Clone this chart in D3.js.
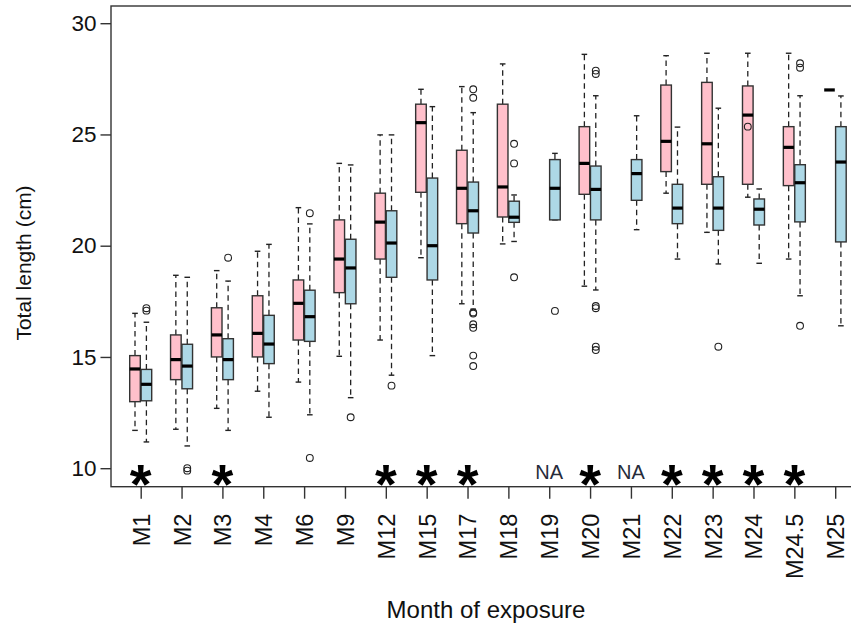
<!DOCTYPE html>
<html><head><meta charset="utf-8">
<script src="https://cdn.jsdelivr.net/npm/d3@7"></script>
<style>body{margin:0;background:#fff} svg{display:block} text{font-family:"Liberation Sans",Arial,sans-serif}</style>
</head><body><svg id="c" width="851" height="627"></svg>
<script>
const categories = ["M1","M2","M3","M4","M6","M9","M12","M15","M17","M18","M19","M20","M21","M22","M23","M24","M24.5","M25"];
// Series 1 (pink)
const pinkLo  = [11.70,11.75,12.69,13.46,13.87,15.03,15.76,19.46,17.39,20.08,null,18.18,null,22.36,20.60,22.18,19.40,27.0];
const pinkQ1  = [12.99,13.98,15.00,15.00,15.76,17.89,19.40,22.40,20.99,21.29,null,22.31,null,23.33,22.76,22.76,22.70,27.0];
const pinkMed = [14.46,14.88,15.99,16.06,17.41,19.40,21.06,25.53,22.58,22.64,null,23.70,null,24.69,24.58,25.87,24.42,27.0];
const pinkQ3  = [15.06,15.99,17.21,17.75,18.46,21.16,22.36,26.36,24.29,26.36,null,25.35,null,27.22,27.34,27.18,25.35,27.0];
const pinkHi  = [16.96,18.67,18.88,19.75,21.71,23.70,24.98,27.03,27.15,28.17,null,28.60,null,28.54,28.65,28.65,28.65,27.0];
const pinkOut = [[],[],[],[],[],[],[],[],[],[],[],[],[],[],[],[25.35],[],[]];
// Series 2 (blue)
const blueLo  = [11.18,11.00,11.70,12.29,12.40,13.17,14.18,15.06,17.15,20.19,21.16,18.01,20.72,19.40,19.18,19.21,17.75,16.40];
const blueQ1  = [13.03,13.57,13.98,14.70,15.70,17.39,18.58,18.46,20.57,21.05,21.16,21.16,22.04,20.99,20.69,20.93,21.07,20.17];
const blueMed = [13.77,14.59,14.88,15.58,16.81,19.00,20.12,20.00,21.57,21.28,22.58,22.53,23.24,21.69,21.69,21.64,22.83,23.76];
const blueQ3  = [14.44,15.57,15.82,16.87,18.00,20.29,21.57,23.04,22.86,22.00,23.87,23.58,23.87,22.76,23.10,22.10,23.64,25.35];
const blueHi  = [16.56,18.58,18.41,20.06,20.98,23.63,24.98,26.25,25.98,22.28,24.15,26.74,25.84,25.33,26.18,22.55,26.74,26.73];
const blueOut = [[17.19,17.08],[10.00,9.89],[19.46],[],[21.46,10.46],[12.29],[13.71],[],
                 [27.03,26.65,17.00,16.95,16.47,16.31,15.06,14.59],[24.58,23.70,18.58],[17.07],
                 [27.87,27.72,17.29,17.19,15.46,15.31],[],[],[15.46],[],[28.20,28.00,16.40],[]];
const marks = ["*","","*","","","","*","*","*","","NA","*","NA","*","*","*","*",""];
const yTicks = [10,15,20,25,30];

const svg = d3.select("#c");
const x = d3.scaleLinear().domain([0, categories.length - 1]).range([140.7, 835.2]);
const y = d3.scaleLinear().domain([10, 30]).range([468.2, 23.2]);

const plotL = x(-0.727), plotR = x(17.73), plotT = 6, plotB = 486.7;
const boxW = 10.6, off = 5.7, capW = 5.6;

const series = [
  {lo: pinkLo, q1: pinkQ1, med: pinkMed, q3: pinkQ3, hi: pinkHi, out: pinkOut, fill: "#FFC0CB", dx: -off},
  {lo: blueLo, q1: blueQ1, med: blueMed, q3: blueQ3, hi: blueHi, out: blueOut, fill: "#ADD8E6", dx: off}
];

const g = svg.append("g");
series.forEach(s => {
  categories.forEach((c, i) => {
    if (s.med[i] == null) return;
    const cx = x(i) + s.dx;
    [[s.q3[i], s.hi[i]], [s.q1[i], s.lo[i]]].forEach(([a, b]) => {
      if (a !== b) g.append("line").attr("x1", cx).attr("x2", cx).attr("y1", y(a)).attr("y2", y(b))
        .attr("stroke", "#222").attr("stroke-width", 1.3).attr("stroke-dasharray", "5.5,4");
      g.append("line").attr("x1", cx - capW/2).attr("x2", cx + capW/2).attr("y1", y(b)).attr("y2", y(b))
        .attr("stroke", "#222").attr("stroke-width", 1.4);
    });
    g.append("rect").attr("x", cx - boxW/2).attr("width", boxW)
      .attr("y", y(s.q3[i])).attr("height", Math.max(0, y(s.q1[i]) - y(s.q3[i])))
      .attr("fill", s.fill).attr("stroke", "#333").attr("stroke-width", 1.4);
    g.append("line").attr("x1", cx - boxW/2).attr("x2", cx + boxW/2).attr("y1", y(s.med[i])).attr("y2", y(s.med[i]))
      .attr("stroke", "#000").attr("stroke-width", 3.2);
    s.out[i].forEach(v => {
      g.append("circle").attr("cx", cx).attr("cy", y(v)).attr("r", 3.4)
        .attr("fill", "none").attr("stroke", "#222").attr("stroke-width", 1.1);
    });
  });
});

// significance marks
categories.forEach((c, i) => {
  const m = marks[i];
  if (m === "*") {
    svg.append("text").attr("x", x(i)).attr("y", 503).attr("text-anchor", "middle")
      .attr("font-size", 56).attr("font-weight", "bold").attr("fill", "#000").text(m);
  } else if (m) {
    svg.append("text").attr("x", x(i)).attr("y", 478.5).attr("text-anchor", "middle")
      .attr("font-size", 20).attr("fill", "#262b3a").text(m);
  }
});

// frame
svg.append("rect").attr("x", plotL).attr("y", plotT).attr("width", plotR - plotL).attr("height", plotB - plotT)
  .attr("fill", "none").attr("stroke", "#333").attr("stroke-width", 1.4);

// y axis
const yAxis = svg.append("g").attr("transform", `translate(${plotL},0)`)
  .call(d3.axisLeft(y).tickValues(yTicks).tickSize(10.5).tickPadding(4).tickFormat(d3.format("d")));
yAxis.select(".domain").remove();
yAxis.selectAll(".tick line").attr("stroke", "#333").attr("stroke-width", 1.4);
yAxis.selectAll(".tick text").attr("font-size", 22.5).attr("fill", "#111").attr("font-family", "Liberation Sans, Arial, sans-serif");

// x axis
const xAxis = svg.append("g").attr("transform", `translate(0,${plotB})`)
  .call(d3.axisBottom(x).tickValues(d3.range(categories.length)).tickSize(12).tickFormat(i => categories[i]));
xAxis.select(".domain").remove();
xAxis.selectAll(".tick line").attr("stroke", "#333").attr("stroke-width", 1.4);
xAxis.selectAll(".tick text")
  .attr("font-size", 23.5).attr("fill", "#111").attr("font-family", "Liberation Sans, Arial, sans-serif")
  .attr("transform", "rotate(-90)").attr("text-anchor", "end")
  .attr("x", -27).attr("y", 0).attr("dy", "0.36em");

// axis titles
svg.append("text").attr("transform", "translate(31,263) rotate(-90)").attr("text-anchor", "middle")
  .attr("font-size", 21).attr("fill", "#111").text("Total length (cm)");
svg.append("text").attr("x", 486).attr("y", 618).attr("text-anchor", "middle")
  .attr("font-size", 24).attr("fill", "#111").text("Month of exposure");
</script></body></html>
